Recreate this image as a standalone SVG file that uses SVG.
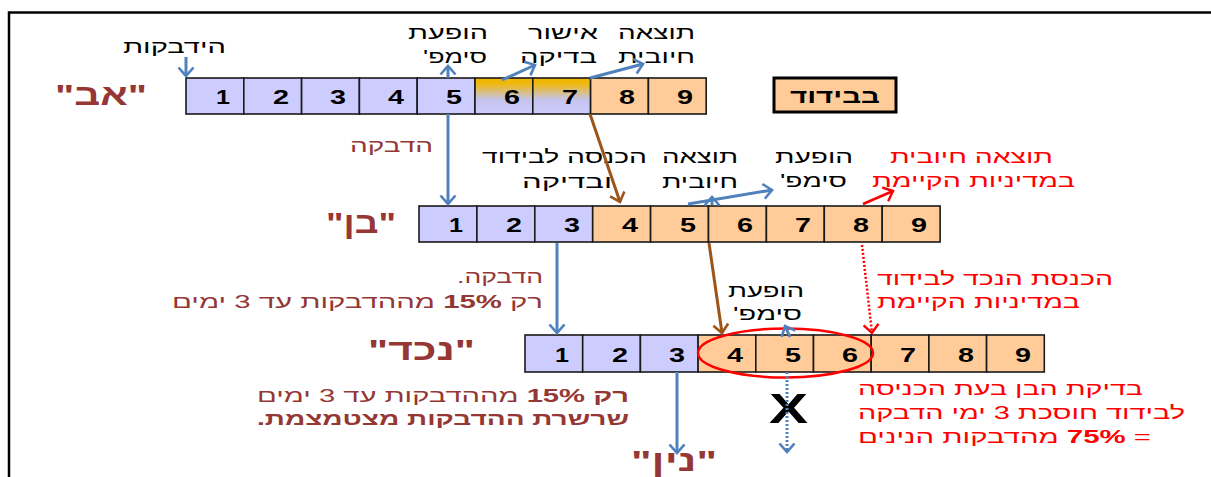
<svg xmlns="http://www.w3.org/2000/svg" width="1211" height="477" viewBox="0 0 1211 477">
<style>
text{font-family:"Liberation Sans","DejaVu Sans",Arial,sans-serif}
.heb{direction:rtl;text-anchor:middle}
.lbl{font-size:30px;font-weight:bold;fill:#953735}
.num{font-size:21px;font-weight:bold;fill:#000;text-anchor:middle}
.blk{font-size:18px;fill:#000}
.brn{font-size:18px;fill:#953735}
.red{font-size:18px;fill:#ff0000}
.b{font-weight:bold}
.cl{stroke:#1a1a1a;stroke-width:1.6}
.lav{fill:#ccccff}
.pch{fill:#ffcc99}
.grd{fill:url(#g67)}
.cb{fill:none;stroke:#4f81bd;stroke-width:3;marker-end:url(#mb)}
.cbd{fill:none;stroke:#4f81bd;stroke-width:3;stroke-dasharray:2 2;marker-end:url(#mb)}
.cbr{fill:none;stroke:#9c5418;stroke-width:3;marker-end:url(#mbr)}
.cr{fill:none;stroke:#ff0000;stroke-width:2.5;marker-end:url(#mr)}
.crd{fill:none;stroke:#ff0000;stroke-width:2.5;stroke-dasharray:2 2;marker-end:url(#mr)}
</style>
<defs>
<linearGradient id="g67" x1="0" y1="0" x2="0" y2="1">
<stop offset="0" stop-color="#f2b500"/>
<stop offset="0.15" stop-color="#efb80a"/>
<stop offset="0.6" stop-color="#c6c4ec"/>
<stop offset="1" stop-color="#ccccff"/>
</linearGradient>
<marker id="mb" viewBox="0 0 12 18" refX="9.5" refY="9" markerWidth="12" markerHeight="18" markerUnits="userSpaceOnUse" orient="auto">
<path d="M1,1.5 L9.5,9 L1,16.5" fill="none" stroke="#4f81bd" stroke-width="2.6"/>
</marker>
<marker id="mbr" viewBox="0 0 12 18" refX="9.5" refY="9" markerWidth="12" markerHeight="18" markerUnits="userSpaceOnUse" orient="auto">
<path d="M1,1.5 L9.5,9 L1,16.5" fill="none" stroke="#9c5418" stroke-width="2.6"/>
</marker>
<marker id="mr" viewBox="0 0 12 18" refX="9.5" refY="9" markerWidth="12" markerHeight="18" markerUnits="userSpaceOnUse" orient="auto">
<path d="M1,1.5 L9.5,9 L1,16.5" fill="none" stroke="#ff0000" stroke-width="2.4"/>
</marker>
</defs>
<rect width="1211" height="477" fill="#fff"/>
<path d="M9,477 L9,12.5 L1211,12.5" fill="none" stroke="#000" stroke-width="2.5"/>

<g id="row-av">
<text class="lbl heb" x="101" y="105" textLength="92" lengthAdjust="spacingAndGlyphs">"אב"</text>
<rect class="cl lav" x="186" y="78" width="57.8" height="36"/>
<rect class="cl lav" x="243.8" y="78" width="57.8" height="36"/>
<rect class="cl lav" x="301.6" y="78" width="57.8" height="36"/>
<rect class="cl lav" x="359.4" y="78" width="57.8" height="36"/>
<rect class="cl lav" x="417.2" y="78" width="57.8" height="36"/>
<rect class="cl grd" x="475" y="78" width="57.8" height="36"/>
<rect class="cl grd" x="532.8" y="78" width="57.8" height="36"/>
<rect class="cl pch" x="590.6" y="78" width="57.8" height="36"/>
<rect class="cl pch" x="648.4" y="78" width="57.8" height="36"/>
<text class="num" x="223" y="104" textLength="14" lengthAdjust="spacingAndGlyphs">1</text>
<text class="num" x="281" y="104" textLength="16" lengthAdjust="spacingAndGlyphs">2</text>
<text class="num" x="338" y="104" textLength="16" lengthAdjust="spacingAndGlyphs">3</text>
<text class="num" x="396" y="104" textLength="16" lengthAdjust="spacingAndGlyphs">4</text>
<text class="num" x="454" y="104" textLength="16" lengthAdjust="spacingAndGlyphs">5</text>
<text class="num" x="512" y="104" textLength="16" lengthAdjust="spacingAndGlyphs">6</text>
<text class="num" x="570" y="104" textLength="16" lengthAdjust="spacingAndGlyphs">7</text>
<text class="num" x="627" y="104" textLength="16" lengthAdjust="spacingAndGlyphs">8</text>
<text class="num" x="685" y="104" textLength="16" lengthAdjust="spacingAndGlyphs">9</text>
</g>

<g id="row-ben">
<text class="lbl heb" x="361" y="233" textLength="70" lengthAdjust="spacingAndGlyphs">"בן"</text>
<rect class="cl lav" x="419" y="206" width="57.9" height="36"/>
<rect class="cl lav" x="476.9" y="206" width="57.9" height="36"/>
<rect class="cl lav" x="534.8" y="206" width="57.9" height="36"/>
<rect class="cl pch" x="592.7" y="206" width="57.9" height="36"/>
<rect class="cl pch" x="650.6" y="206" width="57.9" height="36"/>
<rect class="cl pch" x="708.5" y="206" width="57.9" height="36"/>
<rect class="cl pch" x="766.4" y="206" width="57.9" height="36"/>
<rect class="cl pch" x="824.3" y="206" width="57.9" height="36"/>
<rect class="cl pch" x="882.2" y="206" width="57.9" height="36"/>
<text class="num" x="456" y="232" textLength="14" lengthAdjust="spacingAndGlyphs">1</text>
<text class="num" x="514" y="232" textLength="16" lengthAdjust="spacingAndGlyphs">2</text>
<text class="num" x="572" y="232" textLength="16" lengthAdjust="spacingAndGlyphs">3</text>
<text class="num" x="630" y="232" textLength="16" lengthAdjust="spacingAndGlyphs">4</text>
<text class="num" x="688" y="232" textLength="16" lengthAdjust="spacingAndGlyphs">5</text>
<text class="num" x="745" y="232" textLength="16" lengthAdjust="spacingAndGlyphs">6</text>
<text class="num" x="803" y="232" textLength="16" lengthAdjust="spacingAndGlyphs">7</text>
<text class="num" x="861" y="232" textLength="16" lengthAdjust="spacingAndGlyphs">8</text>
<text class="num" x="919" y="232" textLength="16" lengthAdjust="spacingAndGlyphs">9</text>
</g>

<g id="row-nechad">
<text class="lbl heb" x="421.5" y="360" textLength="107" lengthAdjust="spacingAndGlyphs">"נכד"</text>
<rect class="cl lav" x="525" y="335" width="57.7" height="37"/>
<rect class="cl lav" x="582.7" y="335" width="57.7" height="37"/>
<rect class="cl lav" x="640.4" y="335" width="57.7" height="37"/>
<rect class="cl pch" x="698.1" y="335" width="57.7" height="37"/>
<rect class="cl pch" x="755.8" y="335" width="57.7" height="37"/>
<rect class="cl pch" x="813.5" y="335" width="57.7" height="37"/>
<rect class="cl pch" x="871.2" y="335" width="57.7" height="37"/>
<rect class="cl pch" x="928.9" y="335" width="57.7" height="37"/>
<rect class="cl pch" x="986.6" y="335" width="57.7" height="37"/>
<text class="num" x="562" y="362" textLength="14" lengthAdjust="spacingAndGlyphs">1</text>
<text class="num" x="620" y="362" textLength="16" lengthAdjust="spacingAndGlyphs">2</text>
<text class="num" x="677" y="362" textLength="16" lengthAdjust="spacingAndGlyphs">3</text>
<text class="num" x="735" y="362" textLength="16" lengthAdjust="spacingAndGlyphs">4</text>
<text class="num" x="793" y="362" textLength="16" lengthAdjust="spacingAndGlyphs">5</text>
<text class="num" x="850" y="362" textLength="16" lengthAdjust="spacingAndGlyphs">6</text>
<text class="num" x="908" y="362" textLength="16" lengthAdjust="spacingAndGlyphs">7</text>
<text class="num" x="966" y="362" textLength="16" lengthAdjust="spacingAndGlyphs">8</text>
<text class="num" x="1023" y="362" textLength="16" lengthAdjust="spacingAndGlyphs">9</text>
</g>

<g id="row-nin">
<text class="lbl heb" x="674" y="471" textLength="86" lengthAdjust="spacingAndGlyphs">"נין"</text>
</g>

<g id="legend-isolation">
<rect x="774" y="78" width="122" height="34" fill="#ffcc99" stroke="#000" stroke-width="3"/>
<text class="heb b" x="835" y="103" font-size="20" textLength="90" lengthAdjust="spacingAndGlyphs">בבידוד</text>
</g>

<g id="ellipse-4-6">
<ellipse cx="785.5" cy="353" rx="87.5" ry="24.5" fill="none" stroke="#ff0000" stroke-width="2.5"/>
</g>

<g id="annotations">
<text class="blk heb" x="174.5" y="53" textLength="103" lengthAdjust="spacingAndGlyphs">הידבקות</text>
<text class="blk heb" x="448" y="39" textLength="80" lengthAdjust="spacingAndGlyphs">הופעת</text>
<text class="blk heb" x="455" y="63" textLength="64" lengthAdjust="spacingAndGlyphs">סימפ'</text>
<text class="blk heb" x="563" y="39" textLength="70" lengthAdjust="spacingAndGlyphs">אישור</text>
<text class="blk heb" x="558.5" y="63" textLength="77" lengthAdjust="spacingAndGlyphs">בדיקה</text>
<text class="blk heb" x="656.5" y="39" textLength="77" lengthAdjust="spacingAndGlyphs">תוצאה</text>
<text class="blk heb" x="656.5" y="63" textLength="77" lengthAdjust="spacingAndGlyphs">חיובית</text>

<text class="brn heb" x="391.5" y="152" textLength="83" lengthAdjust="spacingAndGlyphs">הדבקה</text>
<text class="blk heb" x="564.5" y="163" textLength="165" lengthAdjust="spacingAndGlyphs">הכנסה לבידוד</text>
<text class="blk heb" x="567" y="188" textLength="90" lengthAdjust="spacingAndGlyphs">ובדיקה</text>
<text class="blk heb" x="700" y="163" textLength="76" lengthAdjust="spacingAndGlyphs">תוצאה</text>
<text class="blk heb" x="700" y="188" textLength="76" lengthAdjust="spacingAndGlyphs">חיובית</text>
<text class="blk heb" x="814" y="163" textLength="78" lengthAdjust="spacingAndGlyphs">הופעת</text>
<text class="blk heb" x="813.5" y="187" textLength="67" lengthAdjust="spacingAndGlyphs">סימפ'</text>
<text class="red heb" x="971.5" y="163" textLength="163" lengthAdjust="spacingAndGlyphs">תוצאה חיובית</text>
<text class="red heb" x="973.5" y="187" textLength="203" lengthAdjust="spacingAndGlyphs">במדיניות הקיימת</text>

<text class="brn heb" x="500" y="283" textLength="86" lengthAdjust="spacingAndGlyphs">הדבקה.</text>
<text class="brn heb" x="357.5" y="308" textLength="371" lengthAdjust="spacingAndGlyphs">רק <tspan class="b">15%</tspan> מההדבקות עד 3 ימים</text>
<text class="blk heb" x="766" y="297" textLength="76" lengthAdjust="spacingAndGlyphs">הופעת</text>
<text class="blk heb" x="767.5" y="320" textLength="69" lengthAdjust="spacingAndGlyphs">סימפ'</text>
<text class="red heb" x="995" y="285" textLength="236" lengthAdjust="spacingAndGlyphs">הכנסת הנכד לבידוד</text>
<text class="red heb" x="978.5" y="308" textLength="203" lengthAdjust="spacingAndGlyphs">במדיניות הקיימת</text>

<text class="brn heb" x="443" y="402" textLength="372" lengthAdjust="spacingAndGlyphs"><tspan class="b">רק 15%</tspan> מההדבקות עד 3 ימים</text>
<text class="brn heb b" x="443" y="425" textLength="372" lengthAdjust="spacingAndGlyphs">שרשרת ההדבקות מצטמצמת.</text>
<text x="788.5" y="423" font-size="43" font-weight="bold" text-anchor="middle" fill="#000" textLength="39" lengthAdjust="spacingAndGlyphs">X</text>
<text class="red heb" x="1000.5" y="395" textLength="285" lengthAdjust="spacingAndGlyphs">בדיקת הבן בעת הכניסה</text>
<text class="red heb" x="1021.5" y="419" textLength="327" lengthAdjust="spacingAndGlyphs">לבידוד חוסכת 3 ימי הדבקה</text>
<text class="red heb" x="1004.5" y="443" textLength="293" lengthAdjust="spacingAndGlyphs">= <tspan class="b">75%</tspan> מהדבקות הנינים</text>
</g>

<g id="connectors">
<path class="cb" d="M186,57 L186,76"/>
<path class="cb" d="M448,78 L448,66"/>
<path class="cb" d="M502,80 L535,65"/>
<path class="cb" d="M590,78 L643,64"/>
<path class="cbr" d="M590,114 L620,202"/>
<path class="cb" d="M448,114 L448,204"/>
<path class="cb" d="M688,204 L772,190"/>
<path class="cb" d="M712,205 L712,197"/>
<path class="cr" d="M863,204 L893,191"/>
<path class="cb" d="M557,243 L557,333"/>
<path class="cbr" d="M709,243 L722,333"/>
<path class="crd" d="M862,245 L872,333"/>
<path class="cb" d="M790,337 L785,326"/>
<path class="cb" d="M677,372 L677,453"/>
<path class="cbd" d="M787,372 L787,452"/>
</g>
</svg>
